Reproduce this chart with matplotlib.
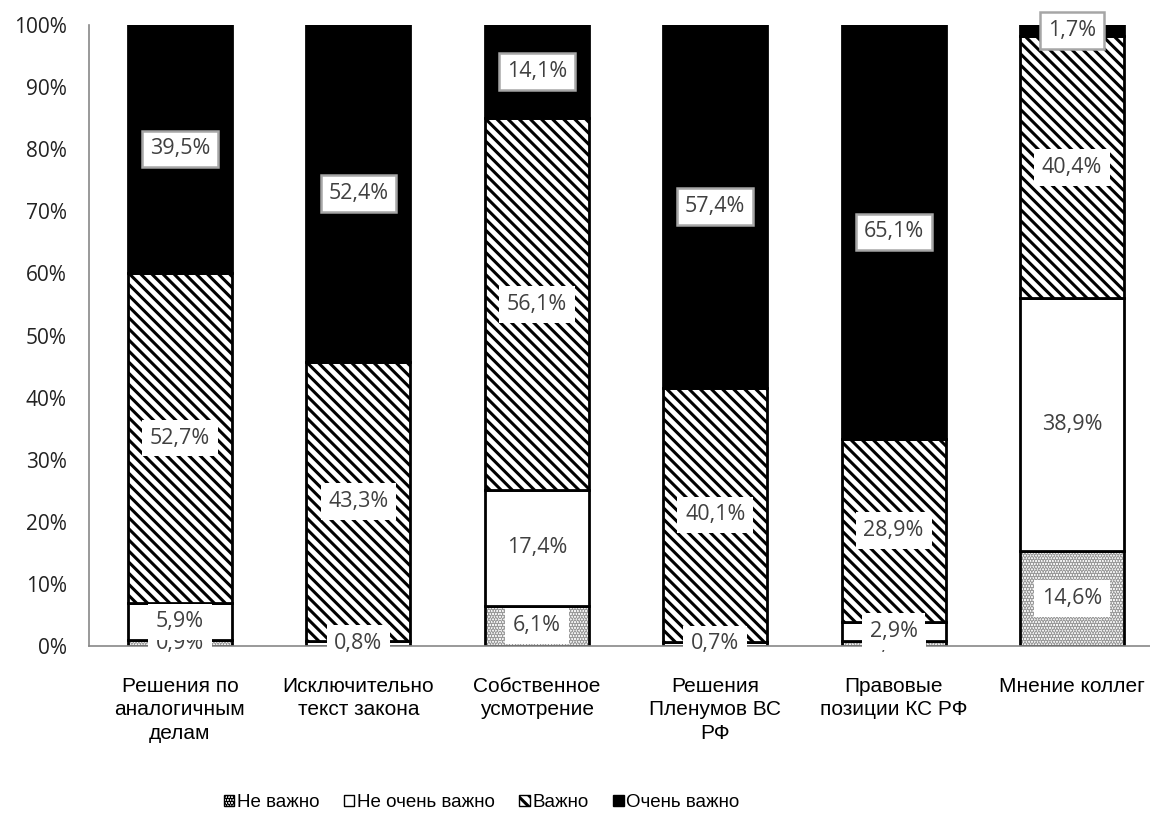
import numpy as np
import matplotlib
matplotlib.use('Agg')
import matplotlib.pyplot as plt
from matplotlib.patches import Patch

categories = [
    'Решения по\nаналогичным\nделам',
    'Исключительно\nтекст закона',
    'Собственное\nусмотрение',
    'Решения\nПленумов ВС\nРФ',
    'Правовые\nпозиции КС РФ',
    'Мнение коллег',
]
series_names = ['Не важно', 'Не очень важно', 'Важно', 'Очень важно']

# проценты ответов (подписи), столбцы нормированы до 100%
ne_vazhno = [0.9, 0.0, 6.1, 0.0, 0.8, 14.6]
ne_ochen_vazhno = [5.9, 0.8, 17.4, 0.7, 2.9, 38.9]
vazhno = [52.7, 43.3, 56.1, 40.1, 28.9, 40.4]
ochen_vazhno = [39.5, 52.4, 14.1, 57.4, 65.1, 1.7]

y_ticks = [0, 10, 20, 30, 40, 50, 60, 70, 80, 90, 100]

plt.rcParams['hatch.linewidth'] = 2.2

data = np.array([ne_vazhno, ne_ochen_vazhno, vazhno, ochen_vazhno])
norm = data / data.sum(axis=0) * 100

# заливка, штриховка, цвет штриховки
styles = [
    ('white', '......', '#9a9a9a'),
    ('white', None, 'black'),
    ('white', '\\\\\\', 'black'),
    ('black', None, 'black'),
]

fig = plt.figure(figsize=(11.5, 8.14), dpi=100)
ax = fig.add_axes([89 / 1150, 168 / 814, 1061 / 1150, 621 / 814])

x = np.arange(len(categories))
bw = 0.583
bottom = np.zeros(len(categories))
for i, name in enumerate(series_names):
    fc, hatch, hc = styles[i]
    # штриховка отдельно, потом черный контур поверх
    ax.bar(x, norm[i], bw, bottom=bottom, color=fc, hatch=hatch,
           edgecolor=hc, linewidth=0)
    ax.bar(x, norm[i], bw, bottom=bottom, fill=False, edgecolor='black', linewidth=2)
    for j in range(len(categories)):
        if data[i, j] <= 0:
            continue
        txt = f'{data[i, j]:.1f}%'.replace('.', ',')
        edge = '#a6a6a6' if i == 3 else 'none'
        ax.text(x[j], bottom[j] + norm[i, j] / 2, txt, ha='center', va='center',
                fontsize=15.5, family='Open Sans', color='#404040',
                bbox=dict(boxstyle='square,pad=0.36', facecolor='white',
                          edgecolor=edge, linewidth=1.8))
    bottom += norm[i]

ax.set_xlim(-0.51, 5.437)
ax.set_ylim(0, 100)
ax.set_yticks(y_ticks)
ax.set_yticklabels([f'{t}%' for t in y_ticks], family='Open Sans', fontsize=15, color='#222222')
ax.set_xticks(x)
ax.set_xticklabels(categories, family='Liberation Sans', fontsize=15, linespacing=1.3)
ax.tick_params(axis='y', length=0, pad=16)
ax.tick_params(axis='x', length=0, pad=22)

for s in ['top', 'right']:
    ax.spines[s].set_visible(False)
for s in ['left', 'bottom']:
    ax.spines[s].set_color('#888888')
    ax.spines[s].set_linewidth(1.2)

handles = [Patch(facecolor=fc, hatch=h, edgecolor='black', linewidth=1, label=n)
           for (fc, h, hc), n in zip(styles, series_names)]
fig.legend(handles=handles, loc='center', bbox_to_anchor=(0.419, 0.014), ncol=4,
           frameon=False, prop={'family': 'Liberation Sans', 'size': 13.5},
           handlelength=0.55, handleheight=0.55, handletextpad=0.15, columnspacing=1.3)

fig.savefig('out.png', dpi=100)
